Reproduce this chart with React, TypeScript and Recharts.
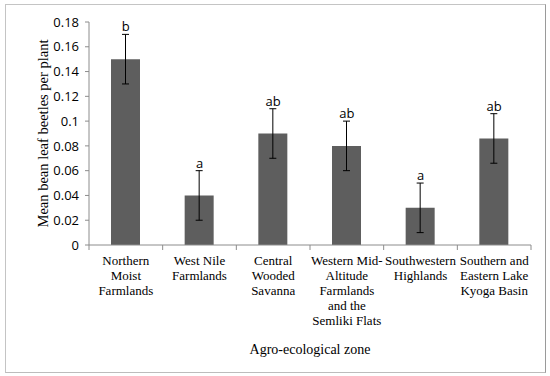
import React from 'react';
import {
    Bar,
    ComposedChart,
    ErrorBar,
    LabelList,
    Line,
    XAxis,
    YAxis
} from 'recharts';

// 農業生態區（換行以 \n 表示）
const zones = [
    'Northern\nMoist\nFarmlands',
    'West Nile\nFarmlands',
    'Central\nWooded\nSavanna',
    'Western Mid-\nAltitude\nFarmlands\nand the\nSemliki Flats',
    'Southwestern\nHighlands',
    'Southern and\nEastern Lake\nKyoga Basin'
];

const means = [0.15, 0.04, 0.09, 0.08, 0.03, 0.086];
const errors = [0.02, 0.02, 0.02, 0.02, 0.02, 0.02];
const letters = ['b', 'a', 'ab', 'ab', 'a', 'ab'];
const yTicks = [0, 0.02, 0.04, 0.06, 0.08, 0.1, 0.12, 0.14, 0.16, 0.18];

const data = zones.map((zone, i) => ({
    zone,
    mean: means[i],
    err: errors[i],
    top: means[i] + errors[i],
    letter: letters[i]
}));

const AXIS_COLOR = '#8c8c8c';
const SERIF = '"Liberation Serif", "Times New Roman", serif';
const SANS = '"Open Sans", "Liberation Sans", sans-serif';

// 自定義 X 軸刻度：多行文字 + 類別邊界的刻度線
const ZoneTick = (props: any) => {
    const { x, y, payload, index } = props;
    const half = payload?.offset ?? 36.8;
    const lines = String(payload.value).split('\n');
    return (
        <g>
            <line x1={x - half} x2={x - half} y1={y} y2={y + 5} stroke={AXIS_COLOR} />
            {index === zones.length - 1 && (
                <line x1={x + half} x2={x + half} y1={y} y2={y + 5} stroke={AXIS_COLOR} />
            )}
            <text x={x} y={y + 20} textAnchor="middle" fontFamily={SERIF} fontSize={13} fill="#000">
                {lines.map((line, i) => (
                    <tspan key={i} x={x} dy={i === 0 ? 0 : 15}>{line}</tspan>
                ))}
            </text>
        </g>
    );
};

export default function App() {
    return (
        <div style={{ position: 'relative', width: 550, height: 376, background: '#fff' }}>
            <style>{'body{margin:0}'}</style>
            <div
                style={{
                    position: 'absolute',
                    left: 5,
                    top: 4,
                    width: 539,
                    height: 367,
                    borderLeft: '1px solid #c4c4c4',
                    borderTop: '1px solid #c4c4c4',
                    borderRight: '1px solid #9a9a9a',
                    borderBottom: '1px solid #bcbcbc',
                    pointerEvents: 'none'
                }}
            />
            <ComposedChart
                width={550}
                height={376}
                data={data}
                margin={{ top: 22, right: 19, bottom: 21, left: 0 }}
            >
                <XAxis
                    dataKey="zone"
                    height={110}
                    stroke={AXIS_COLOR}
                    tickLine={false}
                    tickSize={0}
                    tickMargin={0}
                    interval={0}
                    tick={<ZoneTick />}
                    label={{
                        content: ({ viewBox }: any) => (
                            <text
                                x={viewBox.x + viewBox.width / 2}
                                y={viewBox.y + 109}
                                textAnchor="middle"
                                fontFamily={SERIF}
                                fontSize={14}
                                fill="#000"
                            >
                                Agro-ecological zone
                            </text>
                        )
                    }}
                />
                <YAxis
                    width={89}
                    domain={[0, 0.18]}
                    ticks={yTicks}
                    interval={0}
                    stroke={AXIS_COLOR}
                    tickSize={4}
                    tickMargin={6}
                    tick={{ fill: '#000', fontSize: 13, fontFamily: SANS }}
                    label={{
                        content: ({ viewBox }: any) => (
                            <text
                                x={viewBox.x + 43}
                                y={viewBox.y + viewBox.height / 2}
                                transform={`rotate(-90 ${viewBox.x + 43} ${viewBox.y + viewBox.height / 2})`}
                                textAnchor="middle"
                                dominantBaseline="central"
                                fontFamily={SERIF}
                                fontSize={14.5}
                                fill="#000"
                            >
                                Mean bean leaf beetles per plant
                            </text>
                        )
                    }}
                />
                <Bar dataKey="mean" fill="#5e5e5e" barSize={29} isAnimationActive={false}>
                    <ErrorBar dataKey="err" width={3.5} stroke="#000" strokeWidth={1} direction="y" />
                </Bar>
                <Line
                    dataKey="top"
                    stroke="none"
                    dot={false}
                    activeDot={false}
                    isAnimationActive={false}
                >
                    <LabelList
                        dataKey="letter"
                        position="top"
                        offset={3}
                        fill="#000"
                        fontSize={13}
                        fontFamily={SANS}
                    />
                </Line>
            </ComposedChart>
        </div>
    );
}
